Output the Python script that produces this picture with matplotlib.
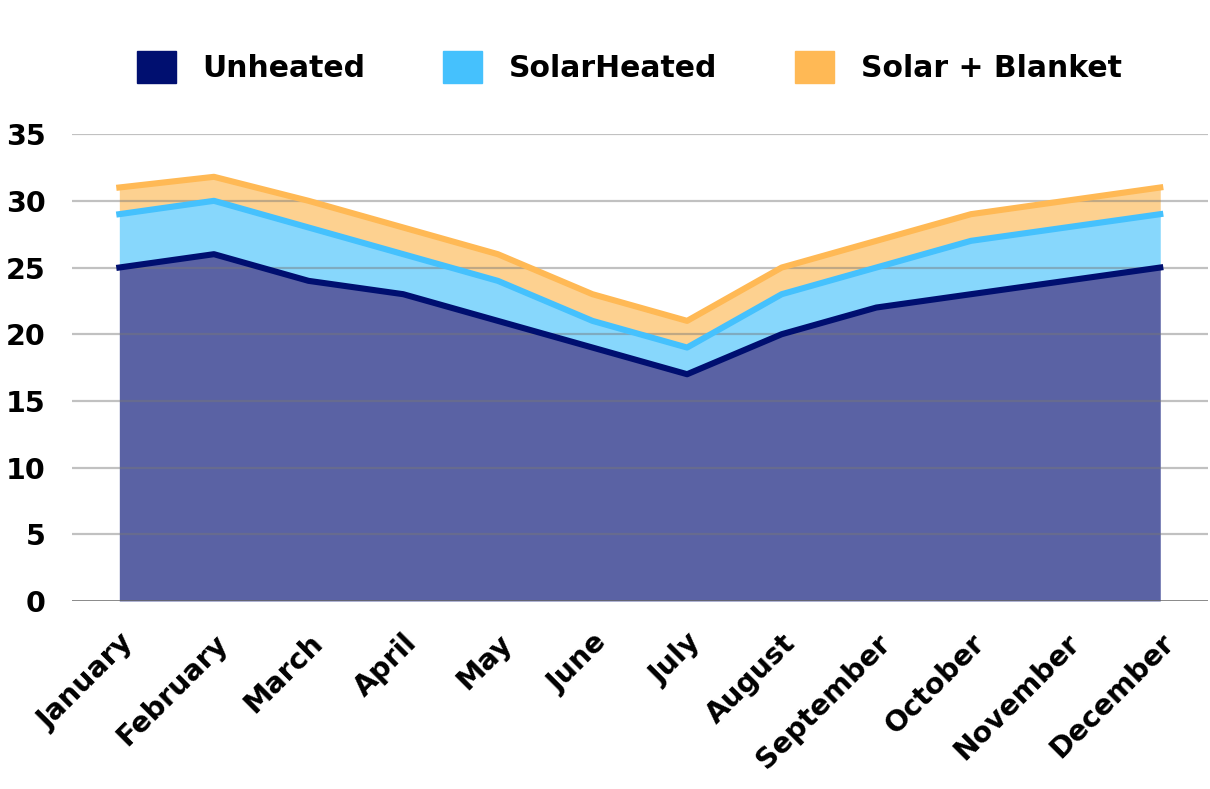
import matplotlib.pyplot as plt
from matplotlib.patches import Patch
import numpy as np

months = ["January", "February", "March", "April", "May", "June",
          "July", "August", "September", "October", "November", "December"]
unheated = [25, 26, 24, 23, 21, 19, 17, 20, 22, 23, 24, 25]
solar_heated = [29, 30, 28, 26, 24, 21, 19, 23, 25, 27, 28, 29]
solar_blanket = [31, 31.8, 30, 28, 26, 23, 21, 25, 27, 29, 30, 31]
y_ticks = [0, 5, 10, 15, 20, 25, 30, 35]

plt.rcParams["font.family"] = ["DejaVu Sans"]
plt.rcParams["font.weight"] = "bold"

fig = plt.figure(figsize=(12.1, 7.89), dpi=100)
ax = fig.add_axes([0.0595, 0.2383, 0.9385, 0.5917])

x = np.arange(len(months))

# areas (layered, each fills down to the one below)
ax.fill_between(x, 0, unheated, color="#5a62a4", lw=0, zorder=1)
ax.fill_between(x, unheated, solar_heated, color="#87d7fc", lw=0, zorder=1)
ax.fill_between(x, solar_heated, solar_blanket, color="#fdd190", lw=0, zorder=1)

# grid over the fills
for t in y_ticks[1:]:
    ax.axhline(t, color="#777777", alpha=0.45, lw=1.6, zorder=2)

ax.plot(x, solar_blanket, color="#ffb955", lw=4.4, solid_joinstyle="round",
        zorder=4, clip_on=False)
ax.plot(x, solar_heated, color="#45c1fd", lw=4.4, solid_joinstyle="round",
        zorder=4, clip_on=False)
ax.plot(x, unheated, color="#000f70", lw=4.4, solid_joinstyle="round",
        zorder=5, clip_on=False)

ax.axhline(0, color="#666666", lw=1.8, zorder=6)

ax.set_xlim(-0.5, 11.5)
ax.set_ylim(0, 35)
ax.set_yticks(y_ticks)
ax.set_xticks(x)
ax.set_xticklabels(months, rotation=45, ha="right", rotation_mode="anchor")
ax.tick_params(axis="both", length=0, labelsize=20.5)
ax.tick_params(axis="y", pad=19)
ax.tick_params(axis="x", pad=20)
for s in ax.spines.values():
    s.set_visible(False)

handles = [
    Patch(facecolor="#000f70", edgecolor="#000f70", label="Unheated"),
    Patch(facecolor="#45c1fd", edgecolor="#45c1fd", label="SolarHeated"),
    Patch(facecolor="#ffb955", edgecolor="#ffb955", label="Solar + Blanket"),
]
fig.legend(handles=handles, loc="center", bbox_to_anchor=(0.52, 0.915), ncol=3,
           frameon=False, fontsize=21.5, handlelength=1.3, handleheight=1.3,
           handletextpad=0.9, columnspacing=2.6)

fig.savefig("out.png", dpi=100)
